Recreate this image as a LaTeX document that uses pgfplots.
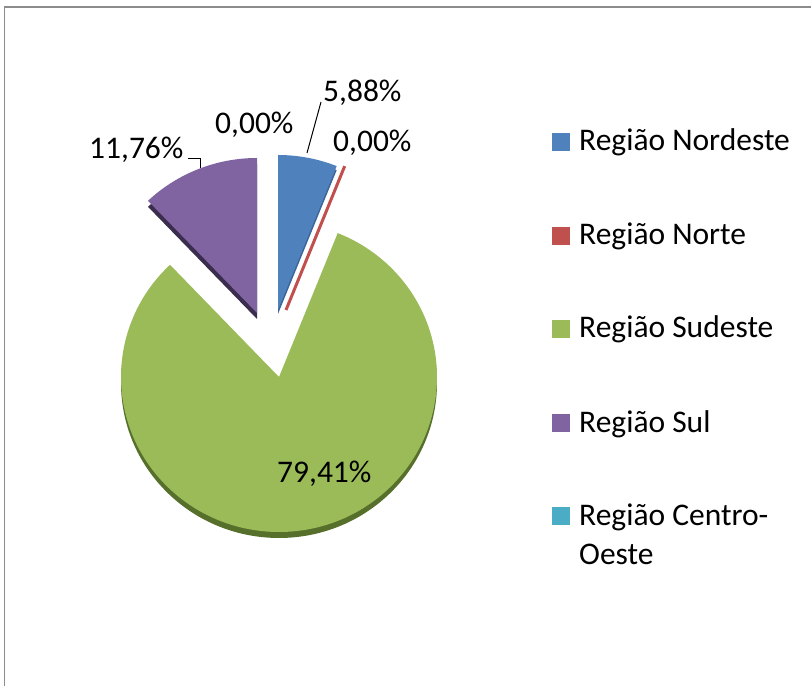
\documentclass[border=0pt]{standalone}
\usepackage{pgfplots}
\pgfplotsset{compat=1.18}
\usepackage{pgfplotstable}
\usepackage{fontspec}
\setmainfont{Carlito}
\definecolor{cNE}{HTML}{4F81BD}
\definecolor{cNEd}{HTML}{3B659A}
\definecolor{cN}{HTML}{C0504D}
\definecolor{cSE}{HTML}{9BBB59}
\definecolor{cSEd}{HTML}{56702C}
\definecolor{cS}{HTML}{8064A2}
\definecolor{cSd}{HTML}{3A2D4E}
\definecolor{cCO}{HTML}{4BACC6}
\definecolor{frame}{HTML}{8C8C8C}
\pgfplotstableread{
region value
Nordeste 5.88
Norte 0.00
Sudeste 79.41
Sul 11.76
CentroOeste 0.00
}\piedata
\begin{document}
\begin{tikzpicture}[font=\fontsize{31.5pt}{38pt}\selectfont]
\pgfplotstablegetelem{0}{value}\of\piedata \pgfmathsetmacro\vA{\pgfplotsretval}
\pgfplotstablegetelem{1}{value}\of\piedata \pgfmathsetmacro\vB{\pgfplotsretval}
\pgfplotstablegetelem{2}{value}\of\piedata \pgfmathsetmacro\vC{\pgfplotsretval}
\pgfplotstablegetelem{3}{value}\of\piedata \pgfmathsetmacro\vD{\pgfplotsretval}
\pgfplotstablegetelem{4}{value}\of\piedata \pgfmathsetmacro\vE{\pgfplotsretval}
\pgfmathsetmacro\tot{\vA+\vB+\vC+\vD+\vE}
\pgfmathsetmacro\aA{90}
\pgfmathsetmacro\aB{\aA-360*(\vA/\tot)}
\pgfmathsetmacro\aC{\aB-360*(\vB/\tot)}
\pgfmathsetmacro\aD{\aC-360*(\vC/\tot)}
\pgfmathsetmacro\aE{\aD-360*(\vD/\tot)}
\useasboundingbox (0,0) rectangle (811pt,686pt);
\begin{axis}[x=1pt,y=1pt,xmin=0,xmax=811,ymin=0,ymax=686,hide axis,clip=false]
% frame
\draw[frame,line width=1.5pt] (axis cs:4.5,0) -- (axis cs:4.5,679) -- (axis cs:811,679);
% Sudeste (not exploded)
\fill[cSEd] (axis cs:279,303) -- ++(\aD:158pt and 155pt) arc[start angle=\aD, end angle=\aC, x radius=158pt, y radius=155pt] -- cycle;
\fill[cSE] (axis cs:279,309) -- ++(\aD:158pt and 155pt) arc[start angle=\aD, end angle=\aC, x radius=158pt, y radius=155pt] -- cycle;
% Sul (exploded)
\fill[cSd] (axis cs:257,367) -- ++(\aE:158pt and 155pt) arc[start angle=\aE, end angle=\aD, x radius=158pt, y radius=155pt] -- cycle;
\fill[cS] (axis cs:257,373) -- ++(\aE:158pt and 155pt) arc[start angle=\aE, end angle=\aD, x radius=158pt, y radius=155pt] -- cycle;
% Nordeste (exploded)
\fill[cNEd] (axis cs:278,372) -- ++(\aB:158pt and 155pt) arc[start angle=\aB, end angle=\aA, x radius=158pt, y radius=155pt] -- cycle;
\fill[cNE] (axis cs:278,376) -- ++(\aB:158pt and 155pt) arc[start angle=\aB, end angle=\aA, x radius=158pt, y radius=155pt] -- cycle;
% Norte (0 %, exploded)
\draw[cN,line width=3pt] (axis cs:286,376) -- ++(\aC:158pt and 155pt);
% leader lines
\draw[black,line width=1pt] (axis cs:307,533) -- (axis cs:321,584);
\draw[black,line width=1pt] (axis cs:188,527) -- (axis cs:200,527) -- (axis cs:200,518);
% data labels
\node[anchor=base west,inner sep=0pt] at (axis cs:323,584) {5,88\%};
\node[anchor=base west,inner sep=0pt] at (axis cs:333,534) {0,00\%};
\node[anchor=base west,inner sep=0pt] at (axis cs:215,552) {0,00\%};
\node[anchor=base west,inner sep=0pt] at (axis cs:89,527) {11,76\%};
\node[anchor=base west,inner sep=0pt] at (axis cs:277,204) {79,41\%};
% legend
\fill[cNE] (axis cs:552,535) rectangle (axis cs:570,553);
\node[anchor=base west,inner sep=0pt] at (axis cs:579,535) {Região Nordeste};
\fill[cN] (axis cs:552,441) rectangle (axis cs:570,459);
\node[anchor=base west,inner sep=0pt] at (axis cs:579,441) {Região Norte};
\fill[cSE] (axis cs:552,348) rectangle (axis cs:570,366);
\node[anchor=base west,inner sep=0pt] at (axis cs:579,348) {Região Sudeste};
\fill[cS] (axis cs:552,254) rectangle (axis cs:570,272);
\node[anchor=base west,inner sep=0pt] at (axis cs:579,254) {Região Sul};
\fill[cCO] (axis cs:552,161) rectangle (axis cs:570,179);
\node[anchor=base west,inner sep=0pt] at (axis cs:579,161) {Região Centro-};
\node[anchor=base west,inner sep=0pt] at (axis cs:579,122) {Oeste};
\end{axis}
\end{tikzpicture}
\end{document}
